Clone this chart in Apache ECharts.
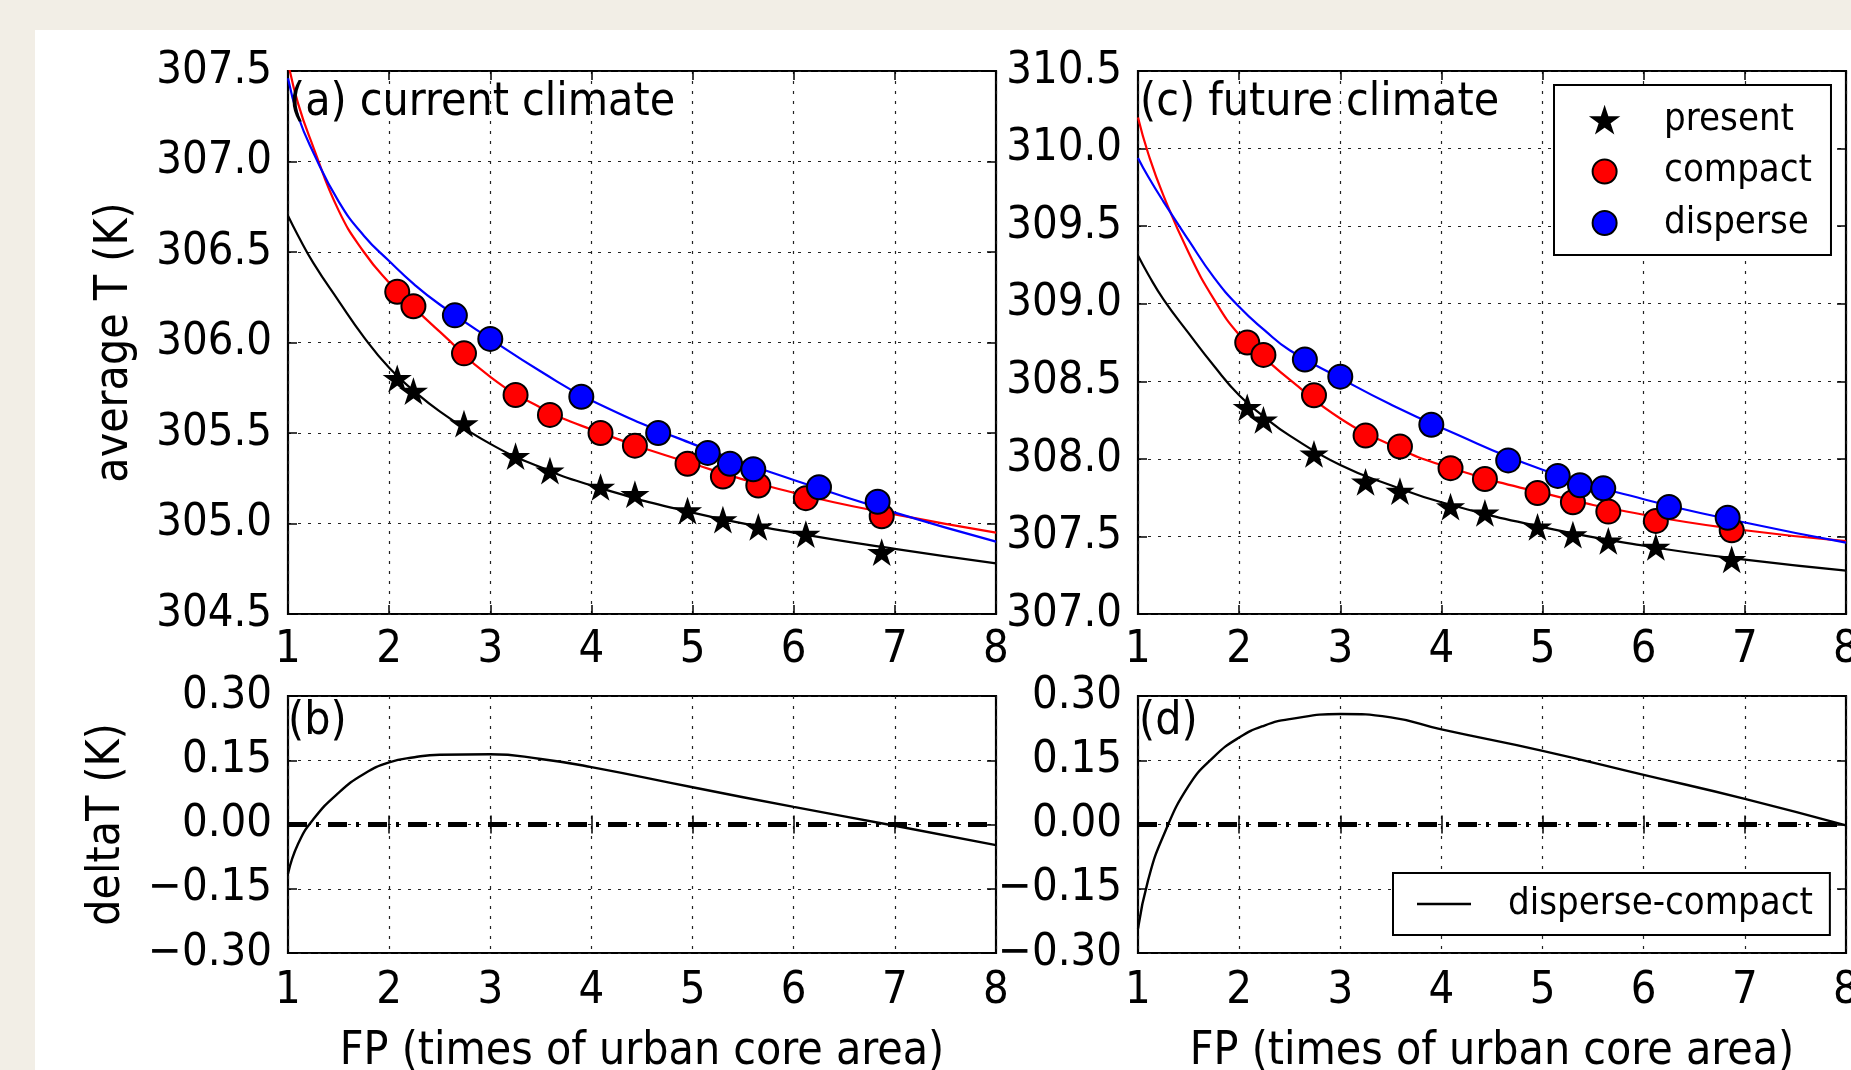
<!DOCTYPE html>
<html>
<head>
<meta charset="utf-8">
<title>average T vs FP</title>
<script src="https://cdn.jsdelivr.net/npm/echarts@6/dist/echarts.min.js"></script>
<style>
    html, body { margin: 0; padding: 0; background: #f2eee6; overflow: hidden; }
    #paper { position: absolute; left: 35px; top: 30px; width: 1816px; height: 1040px; background: #fff; }
    #chart { position: absolute; left: 0; top: 0; width: 1851px; height: 1070px; }
</style>
</head>
<body>
<div id="paper"></div>
<div id="chart"></div>
<script>
    // FP (times of urban core area) of the simulated cases
    var fpCompact = [2.08, 2.24, 2.74, 3.25, 3.59, 4.09, 4.43, 4.95, 5.30, 5.65, 6.12, 6.87];
    var fpDisperse = [2.65, 3.00, 3.90, 4.66, 5.15, 5.37, 5.60, 6.25, 6.83];

    // (a) current climate
    var presentA = [305.80, 305.73, 305.55, 305.37, 305.29, 305.20, 305.16, 305.07, 305.02, 304.98, 304.94, 304.84];
    var compactA = [306.28, 306.20, 305.94, 305.71, 305.60, 305.50, 305.43, 305.33, 305.26, 305.21, 305.14, 305.04];
    var disperseA = [306.15, 306.02, 305.70, 305.50, 305.39, 305.33, 305.30, 305.20, 305.12];

    // (c) future climate
    var presentC = [308.33, 308.25, 308.03, 307.85, 307.79, 307.69, 307.65, 307.56, 307.51, 307.47, 307.43, 307.35];
    var compactC = [308.75, 308.67, 308.41, 308.15, 308.08, 307.94, 307.87, 307.78, 307.72, 307.66, 307.60, 307.54];
    var disperseC = [308.64, 308.53, 308.22, 307.99, 307.89, 307.83, 307.81, 307.69, 307.62];

    var fpFit = [1, 1.1, 1.25, 1.5, 1.75, 2, 2.25, 2.5, 3, 3.5, 4, 5, 6, 7, 8];
    var fitPresentA = [306.70, 306.59, 306.44, 306.23, 306.03, 305.86, 305.73, 305.62, 305.44, 305.31, 305.21, 305.06, 304.95, 304.86, 304.78];
    var fitCompactA = [307.55, 307.32, 307.08, 306.73, 306.50, 306.33, 306.19, 306.06, 305.81, 305.64, 305.52, 305.33, 305.17, 305.05, 304.95];
    var fitDisperseA = [307.46, 307.25, 307.05, 306.78, 306.59, 306.45, 306.32, 306.21, 306.02, 305.84, 305.68, 305.44, 305.24, 305.06, 304.90];
    var fitPresentC = [309.31, 309.19, 309.03, 308.81, 308.60, 308.41, 308.27, 308.15, 307.96, 307.83, 307.72, 307.56, 307.44, 307.35, 307.28];
    var fitCompactC = [310.20, 309.97, 309.70, 309.33, 309.03, 308.80, 308.65, 308.51, 308.26, 308.09, 307.96, 307.78, 307.64, 307.54, 307.47];
    var fitDisperseC = [309.94, 309.82, 309.66, 309.41, 309.17, 308.98, 308.83, 308.70, 308.52, 308.35, 308.20, 307.93, 307.74, 307.59, 307.46];

    // disperse-compact difference
    var deltaB = [-0.115, -0.045, 0.012, 0.074, 0.118, 0.145, 0.157, 0.163, 0.164, 0.153, 0.134, 0.087, 0.041, -0.003, -0.048];
    var deltaD = [-0.243, -0.130, -0.027, 0.090, 0.158, 0.203, 0.231, 0.246, 0.258, 0.250, 0.222, 0.172, 0.116, 0.060, -0.002];

    // axis ranges
    var fpMin = 1, fpMax = 8, fpStep = 1;
    var tRangeA = [304.5, 307.5], tRangeC = [307.0, 310.5], tStep = 0.5;
    var dRange = [-0.30, 0.30], dStep = 0.15;

    var FONT = "'DejaVu Sans Condensed', 'DejaVu Sans', sans-serif";
    var STAR = 'path://M0,-100L22.5,-30.9L95.1,-30.9L36.3,11.8L58.8,80.9L0,38.2L-58.8,80.9L-36.3,11.8L-95.1,-30.9L-22.5,-30.9Z';
    var BAR = 'path://M0,0H100V5H0Z';

    var myChart = echarts.init(document.getElementById('chart'), null, {renderer: 'canvas'});

    function pairs(xs, ys) {
        return xs.map(function (x, i) { return [x, ys[i]]; });
    }

    function tempLabel(v) { return v.toFixed(1); }
    function deltaLabel(v) {
        if (Math.abs(v) < 1e-9) return '0.00';
        var s = Math.abs(v).toFixed(2);
        return v < 0 ? '\u2212' + s : s;
    }

    var gridLine = {show: true, lineStyle: {color: '#222', width: 1.2, type: [3, 7]}};
    var tick = {show: true, inside: true, length: 9, lineStyle: {color: '#000', width: 1.5}};

    // two x axes per grid (bottom with labels, top only ticks)
    function xAxes(gi, margin, name) {
        return [{
            type: 'value', gridIndex: gi, position: 'bottom', min: fpMin, max: fpMax, interval: fpStep,
            axisLine: {show: false},
            axisTick: tick,
            axisLabel: {show: true, margin: margin, fontSize: 45, fontFamily: FONT, color: '#000'},
            splitLine: gridLine,
            name: name || '', nameLocation: 'middle', nameGap: 76,
            nameTextStyle: {fontSize: 46, fontFamily: FONT, color: '#000'}
        }, {
            type: 'value', gridIndex: gi, position: 'top', min: fpMin, max: fpMax, interval: fpStep,
            axisLine: {show: false}, axisTick: tick, axisLabel: {show: false}, splitLine: {show: false}
        }];
    }

    // two y axes per grid (left with labels, right only ticks)
    function yAxes(gi, range, step, fmt, name, gap) {
        return [{
            type: 'value', gridIndex: gi, position: 'left', min: range[0], max: range[1], interval: step,
            axisLine: {show: false},
            axisTick: tick,
            axisLabel: {show: true, margin: 16, fontSize: 45, fontFamily: FONT, color: '#000', formatter: fmt},
            splitLine: gridLine,
            name: name || '', nameLocation: 'middle', nameRotate: 90, nameGap: gap || 0,
            nameTextStyle: {fontSize: 46, fontFamily: FONT, color: '#000'}
        }, {
            type: 'value', gridIndex: gi, position: 'right', min: range[0], max: range[1], interval: step,
            axisLine: {show: false}, axisTick: tick, axisLabel: {show: false}, splitLine: {show: false}
        }];
    }

    function curve(gi, ys, color) {
        return {
            type: 'line', xAxisIndex: 2 * gi, yAxisIndex: 2 * gi,
            data: pairs(fpFit, ys), smooth: 0.5,
            symbol: 'none', showSymbol: false, silent: true, clip: true, z: 3,
            lineStyle: {color: color, width: 2.2}
        };
    }

    function dots(gi, name, xs, ys, symbol, color, size) {
        return {
            type: 'scatter', name: name, xAxisIndex: 2 * gi, yAxisIndex: 2 * gi,
            data: pairs(xs, ys), symbol: symbol, symbolSize: size, symbolKeepAspect: true,
            silent: true, z: 5,
            itemStyle: {color: color, borderColor: '#000', borderWidth: 2, opacity: 1}
        };
    }

    function delta(gi, ys) {
        return {
            type: 'line', name: 'disperse-compact', xAxisIndex: 2 * gi, yAxisIndex: 2 * gi,
            data: pairs(fpFit, ys), smooth: 0.5,
            symbol: 'none', showSymbol: false, silent: true, clip: true, z: 3,
            lineStyle: {color: '#000', width: 2.4},
            itemStyle: {color: '#000'},
            markLine: {
                silent: true, symbol: 'none', label: {show: false},
                lineStyle: {color: '#000', width: 5, type: [19, 9, 3, 9]},
                data: [{yAxis: 0}]
            }
        };
    }

    var gridBase = {
        show: true, backgroundColor: '#fff', borderColor: '#000', borderWidth: 2.2,
        containLabel: false, outerBoundsMode: 'none'
    };

    var panelText = {fontSize: 46, fontWeight: 'normal', fontFamily: FONT, color: '#000'};

    myChart.setOption({
        animation: false,
        backgroundColor: 'transparent',
        grid: [
            Object.assign({left: 288, top: 71, width: 708, height: 543}, gridBase),   // (a)
            Object.assign({left: 1138, top: 71, width: 708, height: 543}, gridBase),  // (c)
            Object.assign({left: 288, top: 696, width: 708, height: 257}, gridBase),  // (b)
            Object.assign({left: 1138, top: 696, width: 708, height: 257}, gridBase)  // (d)
        ],
        title: [
            {text: '(a) current climate', left: 289, top: 80, padding: 0, textStyle: panelText},
            {text: '(c) future climate', left: 1140, top: 80, padding: 0, textStyle: panelText},
            {text: '(b)', left: 288, top: 699, padding: 0, textStyle: panelText},
            {text: '(d)', left: 1139, top: 699, padding: 0, textStyle: panelText}
        ],
        legend: [{
            data: ['present', 'compact', 'disperse'],
            orient: 'vertical', left: 1554, top: 85,
            padding: [15, 19, 12, 37],
            itemWidth: 57, itemHeight: 24, itemGap: 11.5,
            backgroundColor: '#fff', borderColor: '#000', borderWidth: 2,
            selectedMode: false,
            textStyle: {fontSize: 38, fontFamily: FONT, color: '#000', lineHeight: 40, padding: [0, 0, 0, 26]}
        }, {
            data: [{name: 'disperse-compact', icon: BAR}],
            orient: 'vertical', left: 1393, top: 873,
            padding: [11, 17, 11, 24],
            itemWidth: 54, itemHeight: 3,
            backgroundColor: '#fff', borderColor: '#000', borderWidth: 2,
            selectedMode: false,
            itemStyle: {color: '#000', borderWidth: 0},
            textStyle: {fontSize: 38, fontFamily: FONT, color: '#000', lineHeight: 40, padding: [0, 0, 0, 32]}
        }],
        xAxis: [].concat(
            xAxes(0, 14),
            xAxes(1, 14),
            xAxes(2, 16, 'FP (times of urban core area)'),
            xAxes(3, 16, 'FP (times of urban core area)')
        ),
        yAxis: [].concat(
            yAxes(0, tRangeA, tStep, tempLabel, 'average T (K)', 150),
            yAxes(1, tRangeC, tStep, tempLabel),
            yAxes(2, dRange, dStep, deltaLabel, 'deltaT (K)', 158),
            yAxes(3, dRange, dStep, deltaLabel)
        ),
        series: [
            // (a)
            curve(0, fitPresentA, '#000000'),
            curve(0, fitCompactA, '#ff0000'),
            curve(0, fitDisperseA, '#0000ff'),
            dots(0, 'present', fpCompact, presentA, STAR, '#000000', 23),
            dots(0, 'compact', fpCompact, compactA, 'circle', '#ff0000', 24),
            dots(0, 'disperse', fpDisperse, disperseA, 'circle', '#0000ff', 24),
            // (c)
            curve(1, fitPresentC, '#000000'),
            curve(1, fitCompactC, '#ff0000'),
            curve(1, fitDisperseC, '#0000ff'),
            dots(1, 'present', fpCompact, presentC, STAR, '#000000', 23),
            dots(1, 'compact', fpCompact, compactC, 'circle', '#ff0000', 24),
            dots(1, 'disperse', fpDisperse, disperseC, 'circle', '#0000ff', 24),
            // (b), (d)
            delta(2, deltaB),
            delta(3, deltaD)
        ]
    });
</script>
</body>
</html>
